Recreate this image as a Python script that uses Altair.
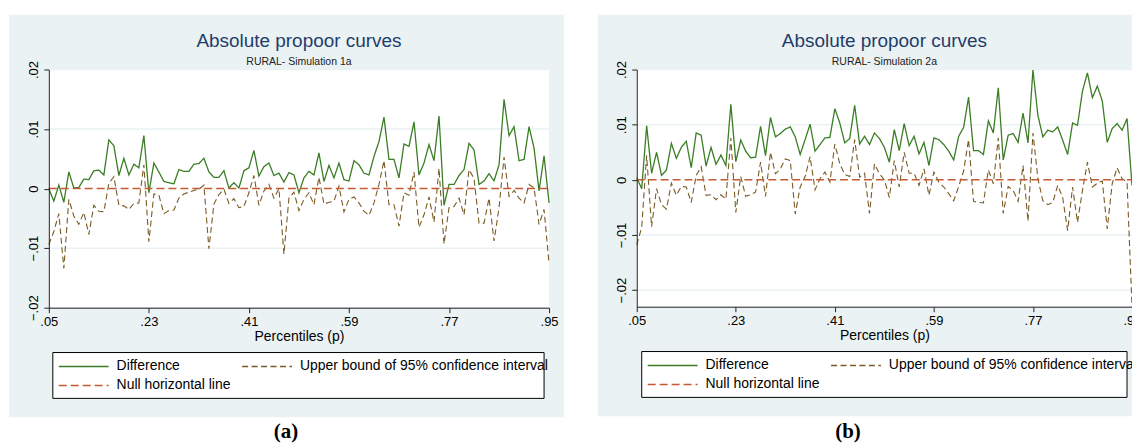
import altair as alt
import pandas as pd

# percentile grid (101 points, .05 to .95)
P = [round(0.05 + 0.009 * i, 3) for i in range(101)]

A_DIFF = [0.0, -0.0021, 0.0006, -0.0023, 0.0028, 0.0001, 0.0002, 0.0016, 0.0015, 0.0030,
          0.0031, 0.0023, 0.0082, 0.0072, 0.0022, 0.0051, 0.0023, 0.0041, 0.0035, 0.0089,
          -0.0007, 0.0043, 0.0028, 0.0012, 0.0010, 0.0008, 0.0032, 0.0029, 0.0029, 0.0041,
          0.0042, 0.0051, 0.0028, 0.0019, 0.0019, 0.0030, 0.0001, 0.0010, 0.0001, 0.0030,
          0.0035, 0.0064, 0.0021, 0.0037, 0.0043, 0.0022, 0.0026, 0.0011, 0.0027, 0.0023,
          -0.0007, 0.0018, 0.0029, 0.0023, 0.0060, 0.0012, 0.0039, 0.0018, 0.0043, 0.0015,
          0.0013, 0.0047, 0.0040, 0.0026, 0.0023, 0.0054, 0.0079, 0.0120, 0.0049, 0.0049,
          0.0018, 0.0075, 0.0071, 0.0112, 0.0023, 0.0043, 0.0074, 0.0047, 0.0122, -0.0028,
          0.0007, 0.0007, 0.0022, 0.0032, 0.0076, 0.0065, 0.0007, 0.0013, 0.0025, 0.0013,
          0.0040, 0.0150, 0.0089, 0.0104, 0.0047, 0.0049, 0.0104, 0.0068, -0.0004, 0.0055,
          -0.0024]

A_UPPER = [-0.0094, -0.0072, -0.0042, -0.0134, -0.0018, -0.0046, -0.0060, -0.0040, -0.0077, -0.0028,
           -0.0038, -0.0039, 0.0009, 0.0020, -0.0028, -0.0029, -0.0035, -0.0025, -0.0024, 0.0040,
           -0.0089, -0.0009, -0.0011, -0.0042, -0.0037, -0.0036, -0.0016, -0.0009, -0.0006, -0.0003,
           -0.0001, 0.0006, -0.0101, -0.0026, -0.0010, -0.0001, -0.0025, -0.0017, -0.0032, -0.0030,
           -0.0007, 0.0022, -0.0028, -0.0004, 0.0007, -0.0016, 0.0000, -0.0110, -0.0016, -0.0006,
           -0.0037, -0.0018, -0.0007, -0.0027, 0.0019, -0.0026, -0.0023, -0.0021, 0.0004, -0.0039,
           -0.0018, -0.0014, -0.0024, -0.0038, -0.0045, -0.0024, 0.0007, 0.0047, -0.0027, -0.0027,
           -0.0063, -0.0007, -0.0011, 0.0028, -0.0065, -0.0044, -0.0014, -0.0056, 0.0034, -0.0093,
           -0.0032, -0.0030, -0.0016, -0.0044, 0.0032, 0.0017, -0.0058, -0.0058, -0.0016, -0.0088,
           -0.0032, 0.0053, -0.0013, -0.0003, -0.0016, -0.0024, 0.0007, 0.0001, -0.0060, -0.0035,
           -0.0126]

B_DIFF = [0.0004, -0.0016, 0.0098, 0.0012, 0.0050, 0.0008, 0.0018, 0.0066, 0.0039, 0.0059,
          0.0070, 0.0022, 0.0085, 0.0081, 0.0025, 0.0059, 0.0028, 0.0045, 0.0026, 0.0137,
          0.0033, 0.0072, 0.0052, 0.0040, 0.0041, 0.0097, 0.0044, 0.0113, 0.0078, 0.0084,
          0.0092, 0.0096, 0.0078, 0.0046, 0.0073, 0.0101, 0.0052, 0.0064, 0.0076, 0.0077,
          0.0129, 0.0103, 0.0067, 0.0075, 0.0135, 0.0065, 0.0079, 0.0064, 0.0085, 0.0075,
          0.0059, 0.0032, 0.0091, 0.0053, 0.0102, 0.0062, 0.0079, 0.0047, 0.0068, 0.0026,
          0.0076, 0.0073, 0.0064, 0.0052, 0.0036, 0.0079, 0.0095, 0.0150, 0.0053, 0.0053,
          0.0046, 0.0107, 0.0085, 0.0167, 0.0036, 0.0081, 0.0084, 0.0068, 0.0121, 0.0067,
          0.0199, 0.0117, 0.0078, 0.0090, 0.0087, 0.0096, 0.0072, 0.0046, 0.0103, 0.0099,
          0.0161, 0.0194, 0.0149, 0.0170, 0.0143, 0.0068, 0.0093, 0.0102, 0.0090, 0.0111,
          -0.0010]

B_UPPER = [-0.0118, -0.0086, 0.0044, -0.0085, -0.0016, -0.0045, -0.0053, -0.0006, -0.0028, -0.0012,
           -0.0013, -0.0041, 0.0008, 0.0024, -0.0028, -0.0027, -0.0036, -0.0027, -0.0035, 0.0076,
           -0.0059, 0.0006, -0.0030, -0.0027, -0.0022, 0.0032, -0.0030, 0.0050, 0.0011, 0.0020,
           0.0038, 0.0035, -0.0062, -0.0013, 0.0006, 0.0042, -0.0018, 0.0002, 0.0014, -0.0004,
           0.0065, 0.0029, 0.0010, 0.0006, 0.0073, 0.0005, 0.0012, -0.0061, 0.0029, 0.0011,
           0.0000, -0.0032, 0.0035, -0.0013, 0.0050, 0.0012, 0.0012, -0.0010, 0.0020, -0.0028,
           0.0014, -0.0004, -0.0013, -0.0025, -0.0038, -0.0012, 0.0016, 0.0073, -0.0039, -0.0041,
           -0.0042, 0.0018, -0.0007, 0.0076, -0.0061, -0.0012, -0.0019, -0.0039, 0.0026, -0.0075,
           0.0085, 0.0002, -0.0038, -0.0045, -0.0041, -0.0010, -0.0032, -0.0092, -0.0013, -0.0077,
           -0.0019, 0.0032, -0.0013, -0.0006, -0.0002, -0.0089, -0.0007, 0.0022, 0.0002, -0.0004,
           -0.0230]

NULL_P = [0.05, 0.95]
NULL_V = [0.0, 0.0]

SERIES = ["Difference", "Upper bound of 95% confidence interval", "Null horizontal line"]
CODES = ["s1", "s2", "s3"]
COLORS = ["#3B7D25", "#7A5A24", "#C65A33"]
DASHES = [[1, 0], [6, 3.5], [8, 4]]
WIDTHS = [1.3, 1.1, 1.5]

X_TICKS = [0.05, 0.23, 0.41, 0.59, 0.77, 0.95]
Y_TICKS = [-0.02, -0.01, 0, 0.01, 0.02]
GRID_Y = [-0.02, -0.01, 0.01, 0.02]

TITLE = "Absolute propoor curves"
SUBTITLES = ["RURAL- Simulation 1a", "RURAL- Simulation 2a"]
CAPTIONS = ["(a)", "(b)"]

BG = "#EAF2F3"
FONT = "Liberation Sans"
AX = "#222222"

LABEL_EXPR = " : ".join(
    f"datum.label == '{c}' ? '{n}'" for c, n in zip(CODES[:-1], SERIES[:-1])
) + f" : '{SERIES[-1]}'"


def one_row():
    return pd.DataFrame({"k": [0]})


def panel(diff, upper, y_dom, w, h, subtitle, caption, bg, box, cap_x):
    df = pd.DataFrame({
        "p": P + P + NULL_P,
        "v": diff + upper + NULL_V,
        "s": [CODES[0]] * len(P) + [CODES[1]] * len(P) + [CODES[2]] * len(NULL_P),
    })
    xs = alt.Scale(domain=[0.05, 0.95], nice=False, zero=False)
    ys = alt.Scale(domain=y_dom, nice=False, zero=False)
    x_axis = alt.Axis(values=X_TICKS, labelExpr="replace(format(datum.value, '.2f'), '0.', '.')",
                      title="Percentiles (p)", grid=False, zindex=1, labelFlush=False,
                      domainColor=AX, tickColor=AX, tickSize=5, labelColor="#000",
                      labelFontSize=13, titleFontSize=14, titleColor="#000", titleFontWeight="normal",
                      labelPadding=3, titlePadding=1, labelFont=FONT, titleFont=FONT)
    y_axis = alt.Axis(values=Y_TICKS,
                      labelExpr="datum.value == 0 ? '0' : replace(format(datum.value, '.2f'), '0.', '.')",
                      title=None, grid=False, zindex=1, labelAngle=270, labelAlign="center",
                      labelBaseline="bottom", domainColor=AX, tickColor=AX, tickSize=5,
                      labelColor="#000", labelFontSize=13, labelPadding=3, labelFont=FONT)
    leg = alt.Legend(title=None, orient="none", legendX=box[0] + 5, legendY=box[2] + 7, columns=2,
                     direction="horizontal",
                     symbolType="stroke", symbolSize=2500, symbolStrokeWidth=1.5,
                     labelFontSize=14, labelFont=FONT, labelColor="#000", clipHeight=14,
                     rowPadding=5, columnPadding=10, labelOffset=7, padding=0, labelLimit=500,
                     labelExpr=LABEL_EXPR)

    bg_rect = alt.Chart(one_row()).mark_rect(fill=BG).encode(
        x=alt.value(bg[0]), x2=alt.value(bg[1]), y=alt.value(bg[2]), y2=alt.value(bg[3]))
    plot_rect = alt.Chart(one_row()).mark_rect(fill="white").encode(
        x=alt.value(0), x2=alt.value(w), y=alt.value(0), y2=alt.value(h))
    box_rect = alt.Chart(one_row()).mark_rect(fill="white", stroke="#000", strokeWidth=1).encode(
        x=alt.value(box[0]), x2=alt.value(box[1]), y=alt.value(box[2]), y2=alt.value(box[3]))
    grid = alt.Chart(pd.DataFrame({"g": GRID_Y})).mark_rule(color=BG, strokeWidth=1.5).encode(
        y=alt.Y("g:Q", scale=ys, axis=y_axis))

    color = alt.Color("s:N", scale=alt.Scale(domain=CODES, range=COLORS), legend=leg, sort=CODES)
    dash = alt.StrokeDash("s:N", scale=alt.Scale(domain=CODES, range=DASHES), legend=leg, sort=CODES)
    lines = []
    for code, sw in zip(CODES, WIDTHS):
        lines.append(
            alt.Chart(df).transform_filter(alt.datum.s == code).mark_line(strokeWidth=sw).encode(
                x=alt.X("p:Q", scale=xs, axis=x_axis),
                y=alt.Y("v:Q", scale=ys, axis=y_axis),
                color=color, strokeDash=dash)
        )

    title_t = alt.Chart(pd.DataFrame({"t": [TITLE]})).mark_text(
        font=FONT, fontSize=19, color="#1F3D6B", align="center", baseline="alphabetic").encode(
        text="t:N", x=alt.value(w / 2), y=alt.value(-23))
    sub_t = alt.Chart(pd.DataFrame({"t": [subtitle]})).mark_text(
        font=FONT, fontSize=10.5, color="#222", align="center", baseline="alphabetic").encode(
        text="t:N", x=alt.value(w / 2), y=alt.value(-5))
    cap_t = alt.Chart(pd.DataFrame({"t": [caption]})).mark_text(
        font="Liberation Serif", fontSize=21, fontWeight="bold", color="#000", align="center",
        baseline="alphabetic").encode(text="t:N", x=alt.value(cap_x), y=alt.value(370))

    return alt.layer(bg_rect, plot_rect, grid, box_rect, *lines, title_t, sub_t, cap_t).properties(
        width=w, height=h)


pa = panel(A_DIFF, A_UPPER, [-0.02, 0.02], 502, 239, SUBTITLES[0], CAPTIONS[0],
           bg=(-40, 517, -55, 349), box=(4, 497, 284, 330), cap_x=238)
pb = panel(B_DIFF, B_UPPER, [-0.023, 0.02], 497, 238, SUBTITLES[1], CAPTIONS[1],
           bg=(-39, 512, -55, 348), box=(5, 492, 283, 329), cap_x=212)

chart = alt.hconcat(pa, pb, spacing=32).resolve_scale(
    x="independent", y="independent", color="independent", strokeDash="independent"
).resolve_legend(color="independent", strokeDash="independent").properties(
    padding={"left": 8, "top": 13, "right": -16, "bottom": 0}, background="white"
).configure(font=FONT).configure_view(stroke="transparent")

chart.save("out.html", embed_options={"renderer": "svg", "actions": False})
